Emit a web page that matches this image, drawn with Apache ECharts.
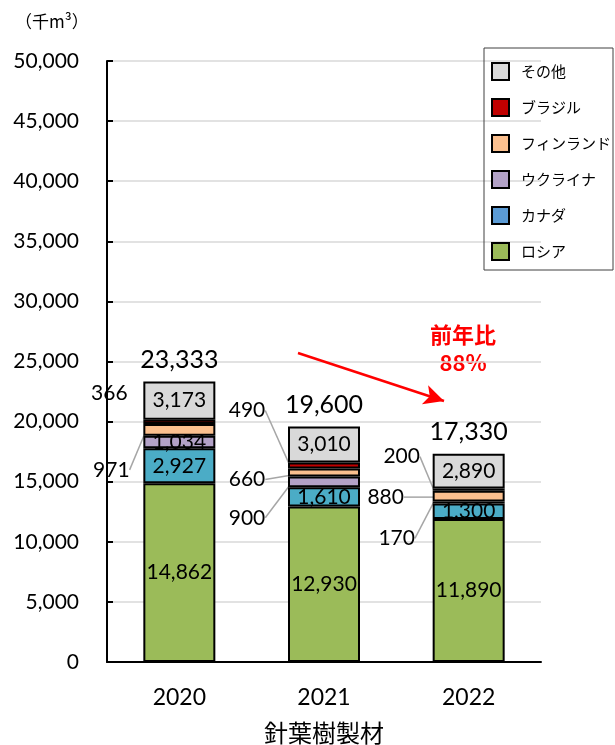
<!DOCTYPE html>
<html>
<head>
<meta charset="utf-8">
<script src="https://cdn.jsdelivr.net/npm/echarts@6/dist/echarts.min.js"></script>
<style>
    html, body { margin: 0; padding: 0; background: #fff; }
    #chart { width: 615px; height: 745px; }
</style>
</head>
<body>
<div id="chart"></div>
<script>
// データ（千m³）
const years = ['2020', '2021', '2022'];
const russia = [14862, 12930, 11890];
const canada = [2927, 1610, 1300];
const ukraine = [1034, 900, 170];
const finland = [971, 660, 880];
const brazil = [366, 490, 200];
const others = [3173, 3010, 2890];
const totals = [23333, 19600, 17330];

// 外に出すラベルのずらし量 [dx, dy]（引き出し線付き）
const outsideLabels = {
    'ウクライナ': { 1: [-77, 36], 2: [-72, 36] },
    'フィンランド': { 0: [-68, 40], 1: [-77, 7], 2: [-83, 1] },
    'ブラジル': { 0: [-70, -29], 1: [-77, -55], 2: [-67, -33] }
};
const noLine = { 'ブラジル': [0] };

const numFont = 'Lato, "Liberation Sans", sans-serif';
const jpFont = '"Noto Sans CJK JP", sans-serif';

const seriesDefs = [
    { name: 'ロシア', data: russia, color: '#9BBB59' },
    { name: 'カナダ', data: canada, color: '#4BACC6' },
    { name: 'ウクライナ', data: ukraine, color: '#B3A2C7' },
    { name: 'フィンランド', data: finland, color: '#FBC08F' },
    { name: 'ブラジル', data: brazil, color: '#C00000' },
    { name: 'その他', data: others, color: '#D9D9D9' }
];

const fmt = v => v.toLocaleString('en-US');

const barSeries = seriesDefs.map(def => ({
    name: def.name,
    type: 'bar',
    stack: 'total',
    barWidth: 72,
    itemStyle: { color: def.color, borderColor: '#000', borderWidth: 2 },
    label: {
        show: true,
        position: 'inside',
        color: '#000',
        fontFamily: numFont,
        fontSize: 21,
        formatter: p => fmt(p.value)
    },
    labelLine: { show: false, lineStyle: { color: '#A6A6A6', width: 1.5 } },
    labelLayout: p => {
        const o = (outsideLabels[def.name] || {})[p.dataIndex];
        return o ? { dx: o[0], dy: o[1] } : {};
    },
    data: def.data.map((v, i) => {
        const o = (outsideLabels[def.name] || {})[i];
        const hide = (noLine[def.name] || []).includes(i);
        return o && !hide ? { value: v, labelLine: { show: true, lineStyle: { color: '#A6A6A6', width: 1.5 } } } : v;
    })
}));

// 合計ラベル
barSeries.push({
    name: '合計',
    type: 'scatter',
    symbolSize: 0,
    silent: true,
    itemStyle: { opacity: 1 },
    label: {
        show: true,
        position: 'top',
        distance: 9,
        color: '#000',
        fontFamily: numFont,
        fontSize: 25,
        formatter: p => fmt(p.value)
    },
    data: totals
});

// 前年比の矢印
barSeries[5].markLine = {
    silent: true,
    symbol: ['none', 'arrow'],
    symbolSize: [15, 20],
    label: { show: false },
    lineStyle: { color: '#FF0000', width: 2.5, type: 'solid' },
    data: [[{ x: 298, y: 353 }, { x: 444, y: 401 }]]
};

const chart = echarts.init(document.getElementById('chart'));

chart.setOption({
    animation: false,
    title: {
        text: '（千m³）',
        left: 10,
        top: 8,
        textStyle: { fontFamily: jpFont, fontSize: 17, fontWeight: 'normal', color: '#000' }
    },
    legend: {
        orient: 'vertical',
        left: 484,
        top: 48,
        padding: [14, 2, 9, 7],
        borderColor: '#404040',
        borderWidth: 1,
        itemWidth: 17,
        itemHeight: 17,
        itemGap: 17,
        icon: 'rect',
        itemStyle: { borderColor: '#000', borderWidth: 2 },
        textStyle: { fontFamily: jpFont, fontSize: 15, color: '#000', padding: [0, 0, 0, 7] },
        data: [
            { name: 'その他' },
            { name: 'ブラジル' },
            { name: 'フィンランド' },
            { name: 'ウクライナ' },
            { name: 'カナダ', itemStyle: { color: '#5B9BD5' } },
            { name: 'ロシア' }
        ]
    },
    grid: { left: 107, right: 74, top: 61, bottom: 83, containLabel: false, outerBoundsMode: 'none' },
    xAxis: {
        type: 'category',
        data: years,
        axisLine: { lineStyle: { color: '#000', width: 2 } },
        axisTick: { show: false },
        axisLabel: { color: '#000', fontFamily: numFont, fontSize: 23, margin: 24 },
        name: '針葉樹製材',
        nameLocation: 'middle',
        nameGap: 59,
        nameTextStyle: { fontFamily: jpFont, fontSize: 24, color: '#000' }
    },
    yAxis: {
        type: 'value',
        min: 0,
        max: 50000,
        interval: 5000,
        axisLine: { show: true, lineStyle: { color: '#000', width: 2 } },
        axisTick: { show: true, inside: true, length: 6, lineStyle: { color: '#000', width: 2 } },
        axisLabel: { color: '#000', fontFamily: numFont, fontSize: 21, margin: 28, formatter: v => fmt(v) },
        splitLine: { lineStyle: { color: '#D9D9D9', width: 1.5 } }
    },
    graphic: [
        {
            type: 'text',
            x: 463,
            y: 349,
            style: {
                text: '前年比\n88%',
                align: 'center',
                verticalAlign: 'middle',
                fill: '#FF0000',
                fontFamily: jpFont,
                fontWeight: 'bold',
                fontSize: 22,
                lineHeight: 28
            }
        }
    ],
    series: barSeries
});
</script>
</body>
</html>
